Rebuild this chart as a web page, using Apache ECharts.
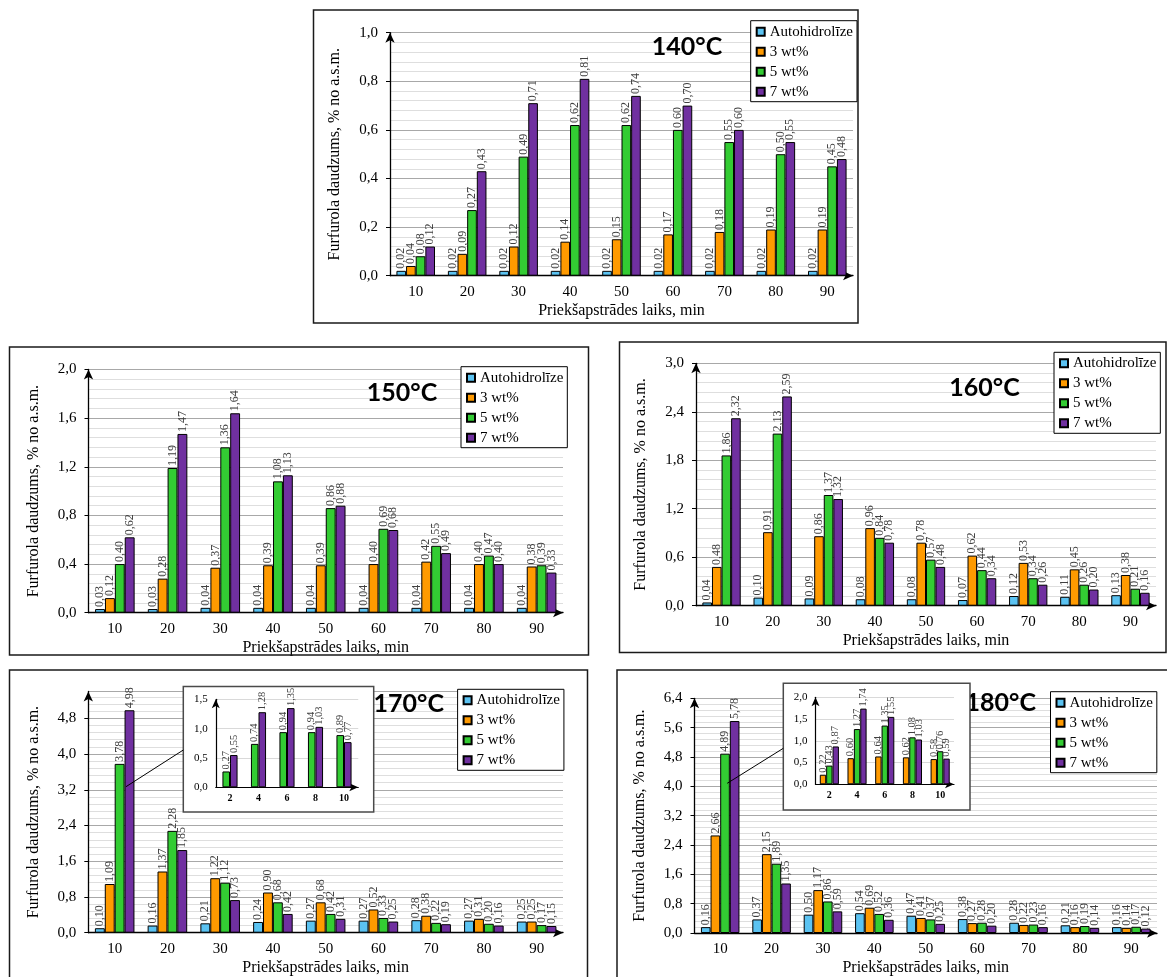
<!DOCTYPE html>
<html><head><meta charset="utf-8">
<script src="https://cdn.jsdelivr.net/npm/echarts@6/dist/echarts.min.js"></script>
<style>html,body{margin:0;padding:0;background:#fff}#c{width:1167px;height:977px}</style>
</head><body><div id="c"></div>
<script>
// ---------- DATA ----------
const categories = ['10','20','30','40','50','60','70','80','90'];
const insetCategories = ['2','4','6','8','10'];
const seriesNames = ['Autohidrolīze','3 wt%','5 wt%','7 wt%'];
const panelTitles = ['140°C','150°C','160°C','170°C','180°C'];
const yMaxes = [1.0, 2.0, 3.0, 5.4, 6.4];
const yIntervals = [0.2, 0.4, 0.6, 0.8, 0.8];
const yAxisName = 'Furfurola daudzums, % no a.s.m.';
const xAxisName = 'Priekšapstrādes laiks, min';

const auto140 = [0.02,0.02,0.02,0.02,0.02,0.02,0.02,0.02,0.02];
const wt3_140 = [0.04,0.09,0.12,0.14,0.15,0.17,0.18,0.19,0.19];
const wt5_140 = [0.08,0.27,0.49,0.62,0.62,0.60,0.55,0.50,0.45];
const wt7_140 = [0.12,0.43,0.71,0.81,0.74,0.70,0.60,0.55,0.48];

const auto150 = [0.03,0.03,0.04,0.04,0.04,0.04,0.04,0.04,0.04];
const wt3_150 = [0.12,0.28,0.37,0.39,0.39,0.40,0.42,0.40,0.38];
const wt5_150 = [0.40,1.19,1.36,1.08,0.86,0.69,0.55,0.47,0.39];
const wt7_150 = [0.62,1.47,1.64,1.13,0.88,0.68,0.49,0.40,0.33];

const auto160 = [0.04,0.10,0.09,0.08,0.08,0.07,0.12,0.11,0.13];
const wt3_160 = [0.48,0.91,0.86,0.96,0.78,0.62,0.53,0.45,0.38];
const wt5_160 = [1.86,2.13,1.37,0.84,0.57,0.44,0.34,0.26,0.21];
const wt7_160 = [2.32,2.59,1.32,0.78,0.48,0.34,0.26,0.20,0.16];

const auto170 = [0.10,0.16,0.21,0.24,0.27,0.27,0.28,0.27,0.25];
const wt3_170 = [1.09,1.37,1.22,0.90,0.68,0.52,0.38,0.31,0.25];
const wt5_170 = [3.78,2.28,1.12,0.68,0.42,0.33,0.22,0.20,0.17];
const wt7_170 = [4.98,1.85,0.73,0.42,0.31,0.25,0.19,0.16,0.15];

const auto180 = [0.16,0.37,0.50,0.54,0.47,0.38,0.28,0.21,0.16];
const wt3_180 = [2.66,2.15,1.17,0.69,0.41,0.27,0.22,0.16,0.14];
const wt5_180 = [4.89,1.89,0.86,0.52,0.37,0.28,0.23,0.19,0.17];
const wt7_180 = [5.78,1.35,0.59,0.36,0.25,0.20,0.16,0.14,0.12];

// insets (first 10 minutes)
const inset170_wt5 = [0.27,0.74,0.94,0.94,0.89];
const inset170_wt7 = [0.55,1.28,1.35,1.03,0.77];
const inset180_wt3 = [0.22,0.60,0.64,0.62,0.58];
const inset180_wt5 = [0.43,1.27,1.35,1.08,0.76];
const inset180_wt7 = [0.87,1.74,1.55,1.03,0.59];

const panelData = [
  [auto140, wt3_140, wt5_140, wt7_140],
  [auto150, wt3_150, wt5_150, wt7_150],
  [auto160, wt3_160, wt5_160, wt7_160],
  [auto170, wt3_170, wt5_170, wt7_170],
  [auto180, wt3_180, wt5_180, wt7_180]
];

// ---------- STYLE / LAYOUT ----------
const colors = ['#5BC3F2','#FF9A00','#33CC33','#7030A0'];
const SERIF = '"Liberation Serif","Times New Roman",serif';
const grids = [
  {left:390, top:32.7, width:463, height:243},
  {left:88.5, top:369.5, width:474.5, height:243.2},
  {left:696, top:363.3, width:460, height:242.4},
  {left:88.3, top:691.5, width:474.7, height:241.2},
  {left:694.5, top:698.3, width:462.5, height:237.7},
  {left:215.75, top:699.3, width:142.5, height:88},
  {left:815.5, top:697.3, width:138.5, height:87}
];
const legendPos = [
  {left:750.7, top:20.7},{left:461, top:366.7},{left:1054, top:352.3},
  {left:457.6, top:689.3},{left:1050.5, top:691.7}
];
const titlePos = [[687,46.7],[402,393],[984.5,387.7],[408.7,704.3],[1000.8,703.3]];
const panelBoxes = [[313.5,10,544.5,313],[9.5,347,579,308],[619.5,342,546.5,310.5],[9.5,670,578,312],[617,670,552,312]];
const insetBoxes = [[183.3,686.5,190.4,125.5],[783.3,683.3,186.7,126.7]];
const calloutLines = [[126,786.7,183.3,750],[727.2,783.3,783.3,748.3]];

const fmt2 = v => v.toFixed(2).replace('.', ',');
const fmt1 = v => v.toFixed(1).replace('.', ',');

const xAxes = [], yAxes = [], series = [], legends = [];
for (let i = 0; i < 5; i++) {
  xAxes.push({
    type:'category', gridIndex:i, data:categories,
    name:xAxisName, nameLocation:'middle', nameGap:27,
    nameTextStyle:{fontFamily:SERIF, fontSize:16, color:'#000'},
    axisLine:{show:true, symbol:['none','arrow'], symbolSize:[7,10], lineStyle:{color:'#000', width:1.3}},
    axisTick:{show:false},
    axisLabel:{fontFamily:SERIF, fontSize:15, color:'#000', margin:9}
  });
  yAxes.push({
    type:'value', gridIndex:i, min:0, max:yMaxes[i], interval:yIntervals[i],
    name:yAxisName, nameLocation:'middle', nameGap:47,
    nameTextStyle:{fontFamily:SERIF, fontSize:16, color:'#000'},
    axisLine:{show:true, symbol:['none','arrow'], symbolSize:[7,10], lineStyle:{color:'#000', width:1.3}},
    axisTick:{show:true, length:4, lineStyle:{color:'#000'}},
    axisLabel:{fontFamily:SERIF, fontSize:15, color:'#000', margin:12, formatter:fmt1, showMaxLabel: i === 3 ? false : true},
    splitLine:{show:true, lineStyle:{color:'#a8a8a8', width:1}},
    minorTick:{show:false, splitNumber:5},
    minorSplitLine:{show:true, lineStyle:{color:'#dedede', width:1}}
  });
  for (let s = 0; s < 4; s++) {
    series.push({
      type:'bar', name:seriesNames[s], xAxisIndex:i, yAxisIndex:i,
      data:panelData[i][s], barGap:'0%', barCategoryGap:'25%',
      itemStyle:{color:colors[s], borderColor:'#000', borderWidth:1},
      label:{show:true, position:'top', rotate:90, align:'left', verticalAlign:'middle', distance:2,
        fontFamily:SERIF, fontSize:12, color:'#404040', formatter:p => fmt2(p.value)}
    });
  }
  legends.push({
    left:legendPos[i].left, top:legendPos[i].top, orient:'vertical', icon:'rect',
    itemWidth:8, itemHeight:8, itemGap:4, itemTextGap:4,
    padding:[3,4,2,5], borderColor:'#000', borderWidth:1, backgroundColor:'#fff',
    textStyle:{fontFamily:SERIF, fontSize:15, lineHeight:16, color:'#000'},
    data:seriesNames, selectedMode:false, z:8
  });
}
// insets
const insetSets = [
  {grid:5, data:[[2, inset170_wt5],[3, inset170_wt7]], max:1.5, gap:'47%'},
  {grid:6, data:[[1, inset180_wt3],[2, inset180_wt5],[3, inset180_wt7]], max:2.0, gap:'31%'}
];
insetSets.forEach(ins => {
  xAxes.push({
    type:'category', gridIndex:ins.grid, data:insetCategories, z:10,
    axisLine:{show:true, symbol:['none','arrow'], symbolSize:[6,9], lineStyle:{color:'#000', width:1.2}},
    axisTick:{show:false},
    axisLabel:{fontFamily:SERIF, fontSize:10, fontWeight:'bold', color:'#000', margin:6}
  });
  yAxes.push({
    type:'value', gridIndex:ins.grid, min:0, max:ins.max, interval:0.5, z:10,
    axisLine:{show:true, symbol:['none','arrow'], symbolSize:[6,9], lineStyle:{color:'#000', width:1.2}},
    axisTick:{show:false},
    axisLabel:{fontFamily:SERIF, fontSize:11, color:'#000', margin:8, formatter:fmt1},
    splitLine:{show:true, lineStyle:{color:'#d9d9d9', width:1}}
  });
  const axisIdx = xAxes.length - 1;
  ins.data.forEach(([s, arr]) => {
    series.push({
      type:'bar', name:seriesNames[s], xAxisIndex:axisIdx, yAxisIndex:axisIdx, z:12,
      data:arr, barGap:'0%', barCategoryGap:ins.gap,
      itemStyle:{color:colors[s], borderColor:'#000', borderWidth:1},
      label:{show:true, position:'top', rotate:90, align:'left', verticalAlign:'middle', distance:2,
        fontFamily:SERIF, fontSize:10.5, color:'#404040', formatter:p => fmt2(p.value)}
    });
  });
});

const graphics = [];
panelBoxes.forEach(b => graphics.push({type:'rect', z:1, silent:true,
  shape:{x:b[0], y:b[1], width:b[2], height:b[3]}, style:{fill:'none', stroke:'#1a1a1a', lineWidth:1.5}}));
panelTitles.forEach((t, i) => graphics.push({type:'text', z:4, silent:true,
  style:{text:t, x:titlePos[i][0], y:titlePos[i][1], textAlign:'center', textVerticalAlign:'middle',
    font:'bold 25px Lato, "Open Sans", sans-serif', fill:'#000'}}));
insetBoxes.forEach(b => graphics.push({type:'rect', z:5, silent:true,
  shape:{x:b[0], y:b[1], width:b[2], height:b[3]}, style:{fill:'#fff', stroke:'#4a4a4a', lineWidth:1.5}}));
calloutLines.forEach(l => graphics.push({type:'line', z:6, silent:true,
  shape:{x1:l[0], y1:l[1], x2:l[2], y2:l[3]}, style:{stroke:'#000', lineWidth:1}}));

const chart = echarts.init(document.getElementById('c'), null, {renderer:'canvas'});
chart.setOption({
  animation:false,
  backgroundColor:'#fff',
  grid:grids.map(g => Object.assign({containLabel:false}, g)),
  xAxis:xAxes, yAxis:yAxes, series:series, legend:legends,
  graphic:{elements:graphics}
});
</script></body></html>
